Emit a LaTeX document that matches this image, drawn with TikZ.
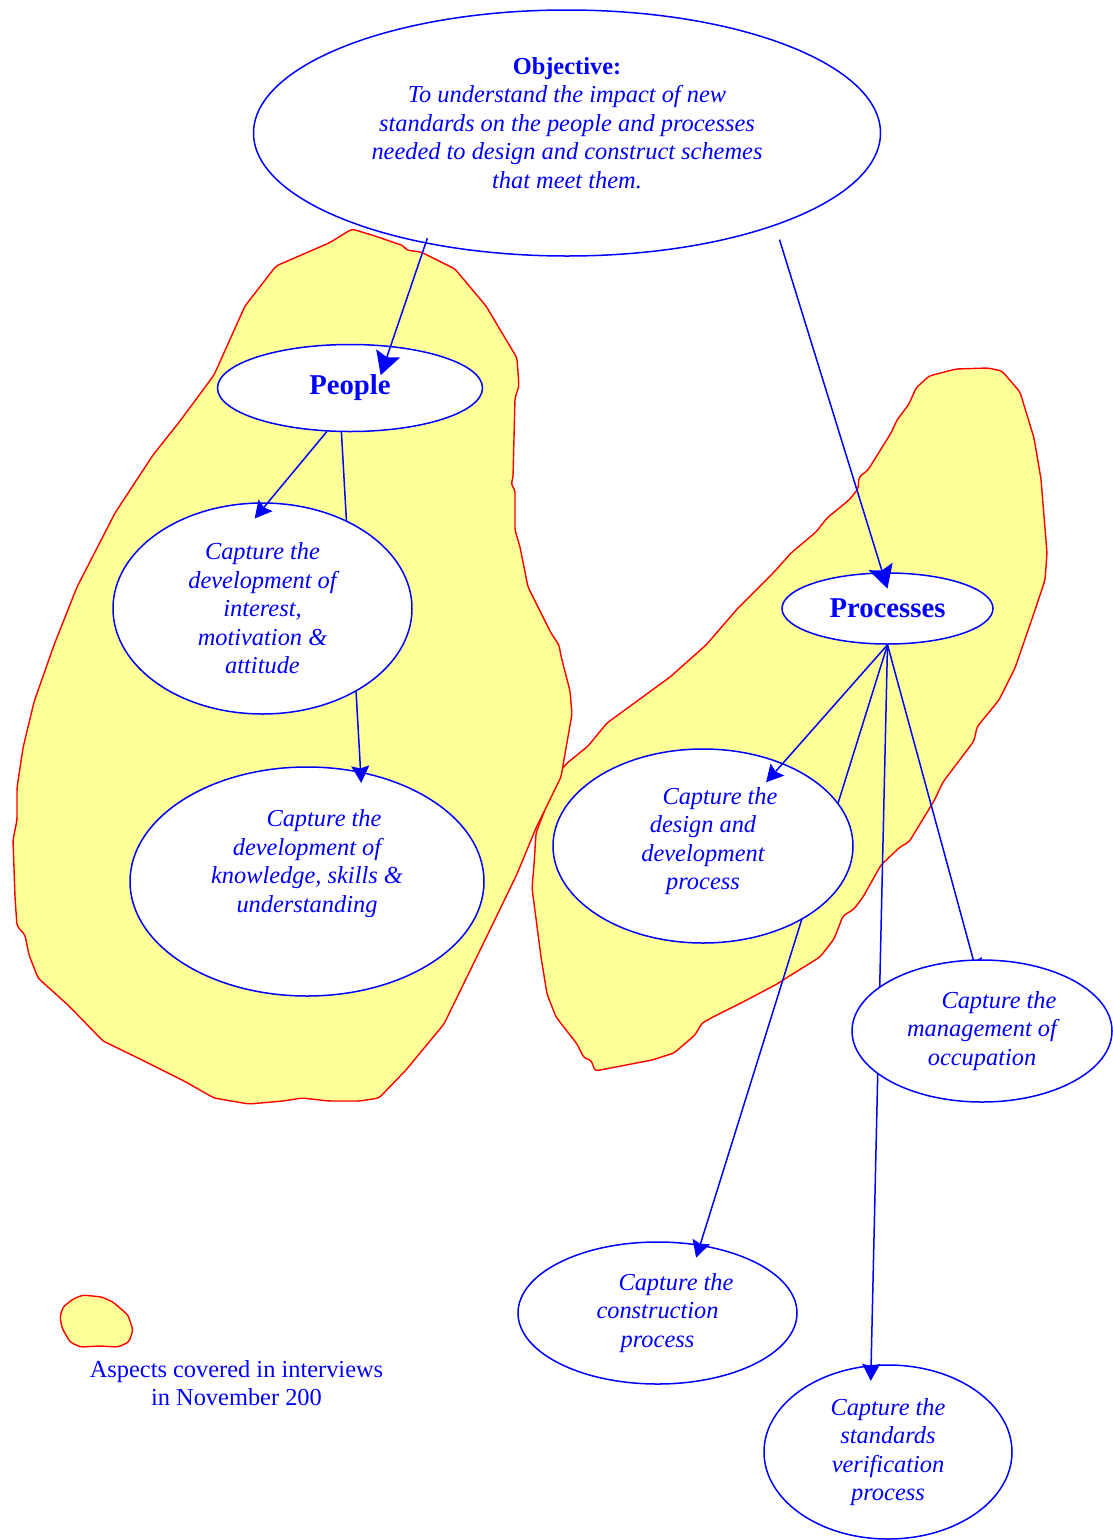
\documentclass[tikz,border=0pt]{standalone}
\usepackage{fontspec}
\setmainfont{Liberation Serif}
\usetikzlibrary{shapes.geometric,arrows.meta,calc}
\definecolor{dblue}{RGB}{0,0,255}
\definecolor{blobfill}{RGB}{255,255,153}
\definecolor{blobline}{RGB}{255,0,0}
\pgfdeclarelayer{blobs}
\pgfdeclarelayer{lowell}
\pgfdeclarelayer{lowarr}
\pgfdeclarelayer{toparr}
\pgfsetlayers{blobs,lowell,lowarr,main,toparr}
\newcommand\txtsize{\fontsize{24.4}{28.5}\selectfont}
\newcommand\bigsize{\fontsize{28.7}{32}\selectfont}
\begin{document}
\begin{tikzpicture}[x=1pt,y=-1pt,
  oval/.style={ellipse,draw=dblue,line width=1.5pt,fill=white,inner sep=0pt,
    text=dblue,align=center,font=\txtsize\itshape},
  blob/.style={draw=blobline,fill=blobfill,line width=1.4pt,line join=round,rounded corners=3pt},
  conn/.style={draw=dblue,line width=1.5pt},
  bigarr/.style={conn,-{Stealth[length=23pt,width=25pt,inset=4pt]}},
  smallarr/.style={conn,-{Stealth[length=17pt,width=18pt,inset=2.5pt]}},
]
\useasboundingbox (0,0) rectangle (1112,1540);

\begin{pgfonlayer}{blobs}
\path[blob] (988,368) -- (1002,371) -- (1020,392) -- (1034,438) -- (1041,479) -- (1047,553) -- (1045,580) -- (1034,613) -- (1015,668) -- (999,700) -- (977,727) -- (974,741) -- (943,782) -- (934,801) -- (909,842) -- (900,847) -- (881,865) -- (863,897) -- (854,909) -- (843,916) -- (834,939) -- (820,957) -- (791,975) -- (777,984) -- (741,1003) -- (713,1017) -- (702,1023) -- (695,1035) -- (674,1053) -- (652,1060) -- (595,1071) -- (591,1060) -- (584,1058) -- (577,1044) -- (556,1017) -- (547,994) -- (541,957) -- (532,888) -- (534,865) -- (536,833) -- (559,773) -- (566,764) -- (588,746) -- (607,723) -- (670,677) -- (706,645) -- (738,608) -- (763,583) -- (775,571) -- (791,553) -- (816,532) -- (827,518) -- (849,500) -- (858,489) -- (859,477) -- (868,470) -- (891,433) -- (897,420) -- (909,404) -- (916,388) -- (929,376) -- (956,369) -- cycle;
\path[blob] (352,229) -- (375,236) -- (404,246) -- (406,250) -- (421,252) -- (455,269) -- (486,306) -- (517,358) -- (519,386) -- (515,398) -- (513,478) -- (511,484) -- (515,490) -- (515,530) -- (520,547) -- (528,587) -- (551,633) -- (559,645) -- (561,656) -- (570,691) -- (572,714) -- (566,748) -- (561,777) -- (536,828) -- (517,874) -- (486,938) -- (444,1024) -- (406,1070) -- (379,1098) -- (360,1101) -- (329,1101) -- (302,1098) -- (283,1101) -- (249,1104) -- (214,1098) -- (184,1081) -- (138,1058) -- (103,1041) -- (69,1006) -- (38,978) -- (29,955) -- (25,935) -- (17,926) -- (15,897) -- (13,840) -- (17,820) -- (17,788) -- (23,748) -- (34,702) -- (54,645) -- (77,587) -- (115,513) -- (153,455) -- (180,421) -- (214,375) -- (245,306) -- (276,266) -- (329,243) -- cycle;
\path[blob] (83,1295) -- (102,1297) -- (113,1302) -- (128,1315) -- (133,1330) -- (129,1342) -- (118,1347) -- (100,1346) -- (80,1347) -- (70,1342) -- (62,1328) -- (60,1317) -- (63,1307) -- (73,1299) -- cycle;
\end{pgfonlayer}

\begin{pgfonlayer}{lowell}
\node[oval,minimum width=627pt,minimum height=246pt] (obj) at (567,133)
  {\textup{\textbf{Objective:}}\\To understand the impact of new\\standards on the people and processes\\needed to design and construct schemes\\that meet them.\\[-8.5pt]\mbox{}};
\node[oval,minimum width=265pt,minimum height=87pt,font=\bigsize\bfseries] (people) at (350,388) {People};
\node[oval,minimum width=211pt,minimum height=71pt,font=\bigsize\bfseries] (proc) at (887.5,608.5) {Processes};
\node[oval,minimum width=354pt,minimum height=229pt] (know) at (307,881.5)
  {\hspace*{34pt}Capture the\\development of\\knowledge, skills \&\\understanding\\[12pt]\mbox{}};
\node[oval,minimum width=279pt,minimum height=142pt] (constr) at (657.5,1313)
  {\hspace*{37pt}Capture the\\construction\\process};
\node[oval,minimum width=248pt,minimum height=174pt] (verif) at (888,1452)
  {Capture the\\standards\\verification\\process};
\end{pgfonlayer}

\node[oval,minimum width=299pt,minimum height=211pt] (interest) at (262.5,608.5)
  {Capture the\\development of\\interest,\\motivation \&\\attitude};
\node[oval,minimum width=300pt,minimum height=194pt] (design) at (703,846)
  {\hspace*{34pt}Capture the\\design and\\development\\process\\[-14pt]\mbox{}};
\node[oval,minimum width=260pt,minimum height=142pt] (mgmt) at (982,1031)
  {\hspace*{34pt}Capture the\\management of\\occupation};

\node[text=dblue,align=center,font=\txtsize] (legend) at (236.5,1383)
  {Aspects covered in interviews\\in November 200};

\begin{pgfonlayer}{lowarr}
\draw[bigarr,shorten <=-5.6pt,shorten >=-31pt] (obj.218.4) -- (people.46.5);
\draw[bigarr,shorten <=14.6pt,shorten >=-17pt] (obj.336.65) -- (proc.98);
\draw[smallarr,shorten >=-11.3pt] (people.259.3) -- (know.64.7);
\draw[smallarr,shorten >=-13.7pt] (proc.south) -- (constr.58.5);
\draw[smallarr,shorten >=-15.8pt] (proc.south) -- (verif.101.55);
\draw[smallarr,shorten >=-17pt] (proc.south) -- (mgmt.97.4);
\end{pgfonlayer}

\begin{pgfonlayer}{toparr}
\draw[smallarr,shorten >=-21pt] (people.242.5) -- (interest.87.2);
\draw[smallarr,shorten >=-25.6pt] (proc.south) -- (design.46.2);
\end{pgfonlayer}
\end{tikzpicture}
\end{document}
